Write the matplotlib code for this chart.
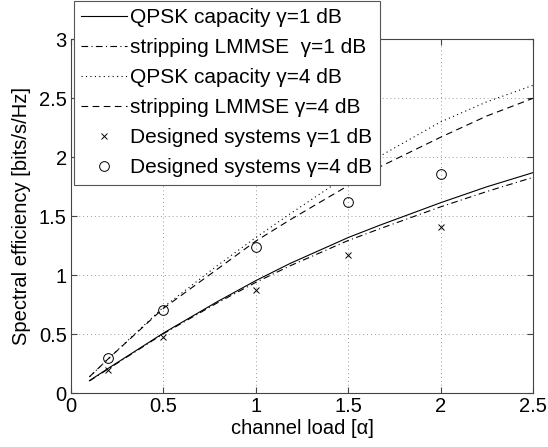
import matplotlib
matplotlib.use('Agg')
import matplotlib.pyplot as plt

# channel load grid for the analytic curves
alpha = [0.1, 0.2, 0.5, 0.79, 1.0, 1.185, 1.5, 1.672, 2.0, 2.25, 2.5]

# gamma = 1 dB
qpsk_1db = [0.107, 0.21, 0.51, 0.775, 0.955, 1.10, 1.32, 1.425, 1.615, 1.75, 1.87]
lmmse_1db = [0.105, 0.205, 0.505, 0.765, 0.94, 1.08, 1.295, 1.395, 1.58, 1.71, 1.83]

# gamma = 4 dB
qpsk_4db = [0.14, 0.29, 0.73, 1.08, 1.32, 1.52, 1.85, 2.01, 2.30, 2.47, 2.61]
lmmse_4db = [0.14, 0.29, 0.72, 1.05, 1.29, 1.47, 1.76, 1.92, 2.17, 2.35, 2.50]

# designed systems
design_alpha = [0.2, 0.5, 1.0, 1.5, 2.0]
design_1db = [0.20, 0.48, 0.875, 1.17, 1.41]
design_4db = [0.30, 0.71, 1.24, 1.62, 1.86]

plt.rcParams['font.family'] = ['Liberation Sans', 'DejaVu Sans']
plt.rcParams['font.size'] = 14.5

fig = plt.figure(figsize=(5.48, 4.47), dpi=100)
ax = fig.add_axes([71 / 548, 1 - 393.3 / 447, 462 / 548, 354 / 447])

lw = 0.8
ax.plot(alpha, qpsk_1db, color='black', linestyle='-', linewidth=lw,
        label='QPSK capacity γ=1 dB')
ax.plot(alpha, lmmse_1db, color='black', linestyle=(0, (6, 3, 1, 3)), linewidth=lw,
        label='stripping LMMSE  γ=1 dB')
ax.plot(alpha, qpsk_4db, color='black', linestyle=(0, (1, 3)), linewidth=lw,
        label='QPSK capacity γ=4 dB')
ax.plot(alpha, lmmse_4db, color='black', linestyle=(0, (6, 4)), linewidth=lw,
        label='stripping LMMSE γ=4 dB')
ax.plot(design_alpha, design_1db, linestyle='none', marker='x', markersize=5,
        markeredgewidth=0.7, color='black', label='Designed systems γ=1 dB')
ax.plot(design_alpha, design_4db, linestyle='none', marker='o', markersize=7,
        markeredgewidth=0.7, markerfacecolor='none', color='black',
        label='Designed systems γ=4 dB')

ax.set_xlim(0, 2.5)
ax.set_ylim(0, 3)
ax.set_xticks([0, 0.5, 1, 1.5, 2, 2.5])
ax.set_xticklabels(['0', '0.5', '1', '1.5', '2', '2.5'])
ax.set_yticks([0, 0.5, 1, 1.5, 2, 2.5, 3])
ax.set_yticklabels(['0', '0.5', '1', '1.5', '2', '2.5', '3'])
ax.grid(True, linestyle=(0, (1, 3)), color='#999999', linewidth=0.7)
ax.tick_params(direction='in', top=True, right=True, length=4, color='#444444', pad=3)
for s in ax.spines.values():
    s.set_color('#444444')
    s.set_linewidth(0.8)

ax.set_xlabel('channel load [α]', labelpad=2)
ax.set_ylabel('Spectral efficiency [bits/s/Hz]', labelpad=6)

leg = ax.legend(loc='upper left', bbox_to_anchor=(74 / 548, 1 - 1 / 447),
                bbox_transform=fig.transFigure, borderaxespad=0,
                fancybox=False, framealpha=1, edgecolor='#555555',
                handlelength=2.2, handletextpad=0.15, labelspacing=0.53,
                borderpad=0.35, fontsize=15)
leg.get_frame().set_linewidth(0.8)

fig.savefig('out.png', dpi=100)
